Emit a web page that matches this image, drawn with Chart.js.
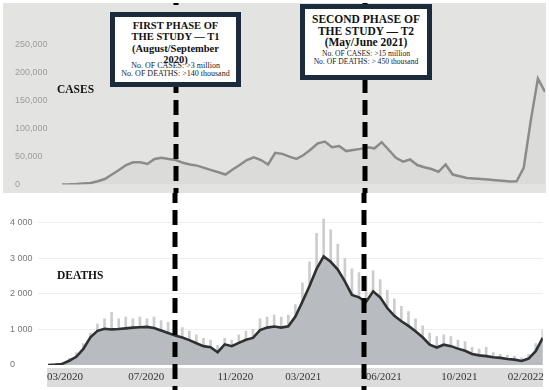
<!DOCTYPE html>
<html>
<head>
<meta charset="utf-8">
<script src="https://cdn.jsdelivr.net/npm/chart.js@4.4.1/dist/chart.umd.min.js"></script>
<style>
  html, body { margin: 0; padding: 0; background: #fff; width: 550px; height: 390px; overflow: hidden; }
  body { position: relative; }
  #topWrap { position: absolute; left: 3px; top: 3px; width: 543px; height: 190px; background: #e3e3e1; }
  #botWrap { position: absolute; left: 0; top: 193px; width: 550px; height: 197px; }
  canvas { display: block; }
  .lbl { position: absolute; font: bold 11.5px "Liberation Serif", serif; color: #111; z-index: 4; }
  .box { position: absolute; box-sizing: border-box; border: 5px solid #1b2b3b; background: #fff; text-align: center;
         font-family: "Liberation Serif", serif; color: #111; z-index: 5; }
  .box .ttl { font-weight: bold; }
  .box .sub { position: absolute; left: 0; right: 0; color: #222; white-space: nowrap; }
</style>
</head>
<body>
<div id="topWrap"><canvas id="casesChart" width="543" height="190"></canvas></div>
<div id="botWrap"><canvas id="deathsChart" width="550" height="197"></canvas></div>

<div class="lbl" style="left:57px;top:83px">CASES</div>
<div class="lbl" style="left:57px;top:269px">DEATHS</div>

<div class="box" style="left:110px;top:12px;width:131px;height:75px;padding-top:3px">
  <div class="ttl" style="font-size:10.5px;line-height:11.3px">FIRST PHASE OF<br>THE STUDY — T1<br>(August/September<br>2020)</div>
  <div class="sub" style="top:45px;font-size:8px;line-height:8px">No. OF CASES: &gt;3 million<br>No. OF DEATHS: &gt;140 thousand</div>
</div>
<div class="box" style="left:300px;top:4px;width:132px;height:76px;padding-top:5px">
  <div class="ttl" style="font-size:11.5px;line-height:11.5px">SECOND PHASE OF<br>THE STUDY — T2<br>(May/June 2021)</div>
  <div class="sub" style="top:41px;font-size:7.6px;line-height:8px">No. OF CASES: &gt;15 million<br>No. OF DEATHS: &gt; 450 thousand</div>
</div>

<script>
// one sample every 10 days, from mid-March 2020 to mid-February 2022
const cases = [null, null, 300, 600, 1200, 2200, 3000, 6000, 10000, 18000,
  26000, 35000, 40000, 40000, 37000, 46000, 48000, 46000, 44000, 39000,
  36000, 34000, 30000, 26000, 22000, 18000, 27000, 35000, 44000, 49000,
  44000, 36000, 57000, 55000, 50000, 46000, 53000, 63000, 74000, 77000,
  67000, 69000, 60000, 62000, 64000, 67000, 65000, 76000, 62000, 48000,
  41000, 45000, 35000, 31000, 28000, 23000, 36000, 18000, 15000, 12000,
  11000, 10000, 9000, 8000, 7000, 5500, 6000, 30000, 115000, 190000,
  166000];

// 7-day average deaths
const deathsAvg = [0, 10, 30, 120, 230, 450, 780, 960, 1020, 1000,
  1010, 1030, 1050, 1060, 1070, 1040, 970, 900, 830, 770,
  700, 610, 530, 500, 360, 580, 530, 620, 710, 760,
  980, 1050, 1080, 1050, 1090, 1360, 1780, 2220, 2700, 3050,
  2900, 2680, 2350, 1970, 1900, 1770, 2070, 1900, 1600, 1380,
  1230, 1100, 950, 780, 570, 490, 570, 530, 460, 400,
  310, 270, 250, 220, 200, 170, 150, 115, 180, 390,
  760];

// daily peaks (the light bars)
const deathsDaily = [0, 20, 60, 180, 350, 600, 900, 1150, 1300, 1480,
  1300, 1350, 1300, 1350, 1300, 1350, 1250, 1200, 1150, 1050,
  950, 850, 750, 700, 550, 750, 700, 850, 950, 1000,
  1300, 1350, 1400, 1350, 1400, 1700, 2300, 2900, 3700, 4100,
  3800, 3400, 3000, 2700, 2600, 2500, 2650, 2400, 2100, 1850,
  1650, 1500, 1300, 1100, 900, 800, 850, 800, 700, 650,
  500, 450, 500, 350, 300, 280, 250, 200, 300, 600,
  980];

const days = cases.map((_, i) => i * 10);
const tickLabels = ['03/2020', '07/2020', '11/2020', '03/2021', '06/2021', '10/2021', '02/2022'];
const tickDays = [24, 139, 265, 361, 475, 582, 676];
const caseTicks = [0, 50000, 100000, 150000, 200000, 250000];
const deathTicks = [0, 1000, 2000, 3000, 4000];
const phaseDays = [180, 447];   // T1, T2

const phaseLines = {
  id: 'phaseLines',
  afterDraw(chart) {
    const { ctx, scales: { x } } = chart;
    const top = chart.canvas.getBoundingClientRect().top;
    ctx.save();
    ctx.strokeStyle = '#000';
    ctx.lineWidth = 5;
    ctx.setLineDash([15, 7]);
    ctx.lineDashOffset = ((top - 100) % 22 + 22) % 22;
    phaseDays.forEach(d => {
      const px = Math.round(x.getPixelForValue(d));
      ctx.beginPath();
      ctx.moveTo(px, 0);
      ctx.lineTo(px, chart.height);
      ctx.stroke();
    });
    ctx.restore();
  }
};

const axisBand = {
  id: 'axisBand',
  beforeDraw(chart) {
    const { ctx, chartArea: a } = chart;
    ctx.save();
    ctx.fillStyle = '#dcdcdc';
    ctx.fillRect(a.left - 1, a.bottom + 3, a.right - a.left + 1, 19);
    ctx.restore();
  }
};

const tickFont = { family: '"Liberation Sans", Arial, sans-serif', size: 9 };

new Chart(document.getElementById('casesChart'), {
  type: 'line',
  data: {
    labels: days,
    datasets: [{
      data: cases,
      borderColor: '#8b8b89',
      borderWidth: 2.5,
      backgroundColor: 'rgba(0,0,0,0.03)',
      fill: 'origin',
      pointRadius: 0,
      tension: 0
    }]
  },
  options: {
    responsive: false, animation: false,
    layout: { padding: { left: 12, right: 1, top: 42, bottom: 6 } },
    plugins: { legend: { display: false }, tooltip: { enabled: false } },
    scales: {
      x: { type: 'linear', min: 0, max: 700, display: false },
      y: {
        min: 0, max: 250000,
        afterFit: s => { s.width = 33; },
        afterBuildTicks: s => { s.ticks = caseTicks.map(v => ({ value: v })); },
        grid: { display: false }, border: { display: false },
        ticks: { color: '#9d9d9d', font: tickFont, crossAlign: 'far',
          callback: v => v.toLocaleString('en-US') }
      }
    }
  },
  plugins: [phaseLines]
});

new Chart(document.getElementById('deathsChart'), {
  data: {
    labels: days,
    datasets: [
      {
        type: 'line', data: deathsAvg, order: 1,
        borderColor: '#303030', borderWidth: 2.6,
        backgroundColor: '#b8bbbf', fill: 'origin',
        pointRadius: 0, tension: 0
      },
      {
        type: 'bar', data: deathsDaily, order: 2,
        backgroundColor: '#cacccf', barThickness: 2
      }
    ]
  },
  options: {
    responsive: false, animation: false,
    layout: { padding: { left: 10, right: 5, top: 19, bottom: 0 } },
    plugins: { legend: { display: false }, tooltip: { enabled: false } },
    scales: {
      x: {
        type: 'linear', min: 0, max: 700, offset: false,
        afterFit: s => { s.height = 25; },
        afterBuildTicks: s => { s.ticks = tickDays.map(v => ({ value: v })); },
        grid: { display: false, drawTicks: false }, border: { display: false },
        ticks: { autoSkip: false, maxRotation: 0, padding: 6, color: '#333',
          font: { family: '"Liberation Serif", serif', size: 11 },
          callback: (v, i) => tickLabels[i] }
      },
      y: {
        min: 0, max: 4300,
        afterFit: s => { s.width = 38; },
        afterBuildTicks: s => { s.ticks = deathTicks.map(v => ({ value: v })); },
        grid: { color: c => c.tick && c.tick.value === 0 ? 'rgba(0,0,0,0)' : '#eeeeee', tickLength: 10 },
        border: { display: false },
        ticks: { color: '#777', font: tickFont, crossAlign: 'far',
          callback: v => v === 0 ? '0' : (v / 1000) + ' 000' }
      }
    }
  },
  plugins: [axisBand, phaseLines]
});
</script>
</body>
</html>
